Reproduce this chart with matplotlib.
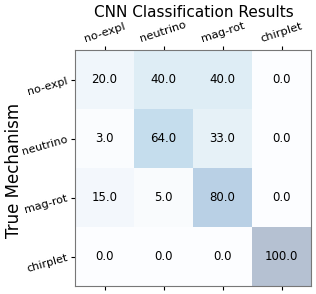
import matplotlib
matplotlib.use("Agg")
import matplotlib.pyplot as plt
import numpy as np

classes = ["no-expl", "neutrino", "mag-rot", "chirplet"]
matrix = np.array([
    [20.0, 40.0, 40.0, 0.0],
    [3.0, 64.0, 33.0, 0.0],
    [15.0, 5.0, 80.0, 0.0],
    [0.0, 0.0, 0.0, 100.0],
])

W, H = 316, 294
fig = plt.figure(figsize=(W / 100, H / 100), dpi=100)
ax = fig.add_axes([75 / W, 8 / H, 236 / W, 236 / H])
ax.imshow(matrix, cmap="Blues", alpha=0.3, vmin=0, vmax=100, aspect="auto")

for i in range(matrix.shape[0]):
    for j in range(matrix.shape[1]):
        ax.text(j, i, f"{matrix[i, j]:.1f}", ha="center", va="center", fontsize=8.5, color="black")

ax.set_xticks(range(len(classes)))
ax.set_yticks(range(len(classes)))
ax.set_xticklabels(classes, rotation=18, fontsize=8.2)
ax.set_yticklabels(classes, rotation=16, fontsize=8.0)
ax.tick_params(axis="x", top=True, labeltop=True, bottom=True, labelbottom=False, length=3, pad=1.5)
ax.tick_params(axis="y", length=3, pad=1.5)
ax.set_ylabel("True Mechanism", fontsize=12)
ax.yaxis.set_label_coords(-0.22, 0.49)
fig.text(194 / W, 1 - 17 / H, "CNN Classification Results", fontsize=11, ha="center", va="baseline")
for s in ax.spines.values():
    s.set_color("#777777")

fig.savefig("out.png", dpi=100)
